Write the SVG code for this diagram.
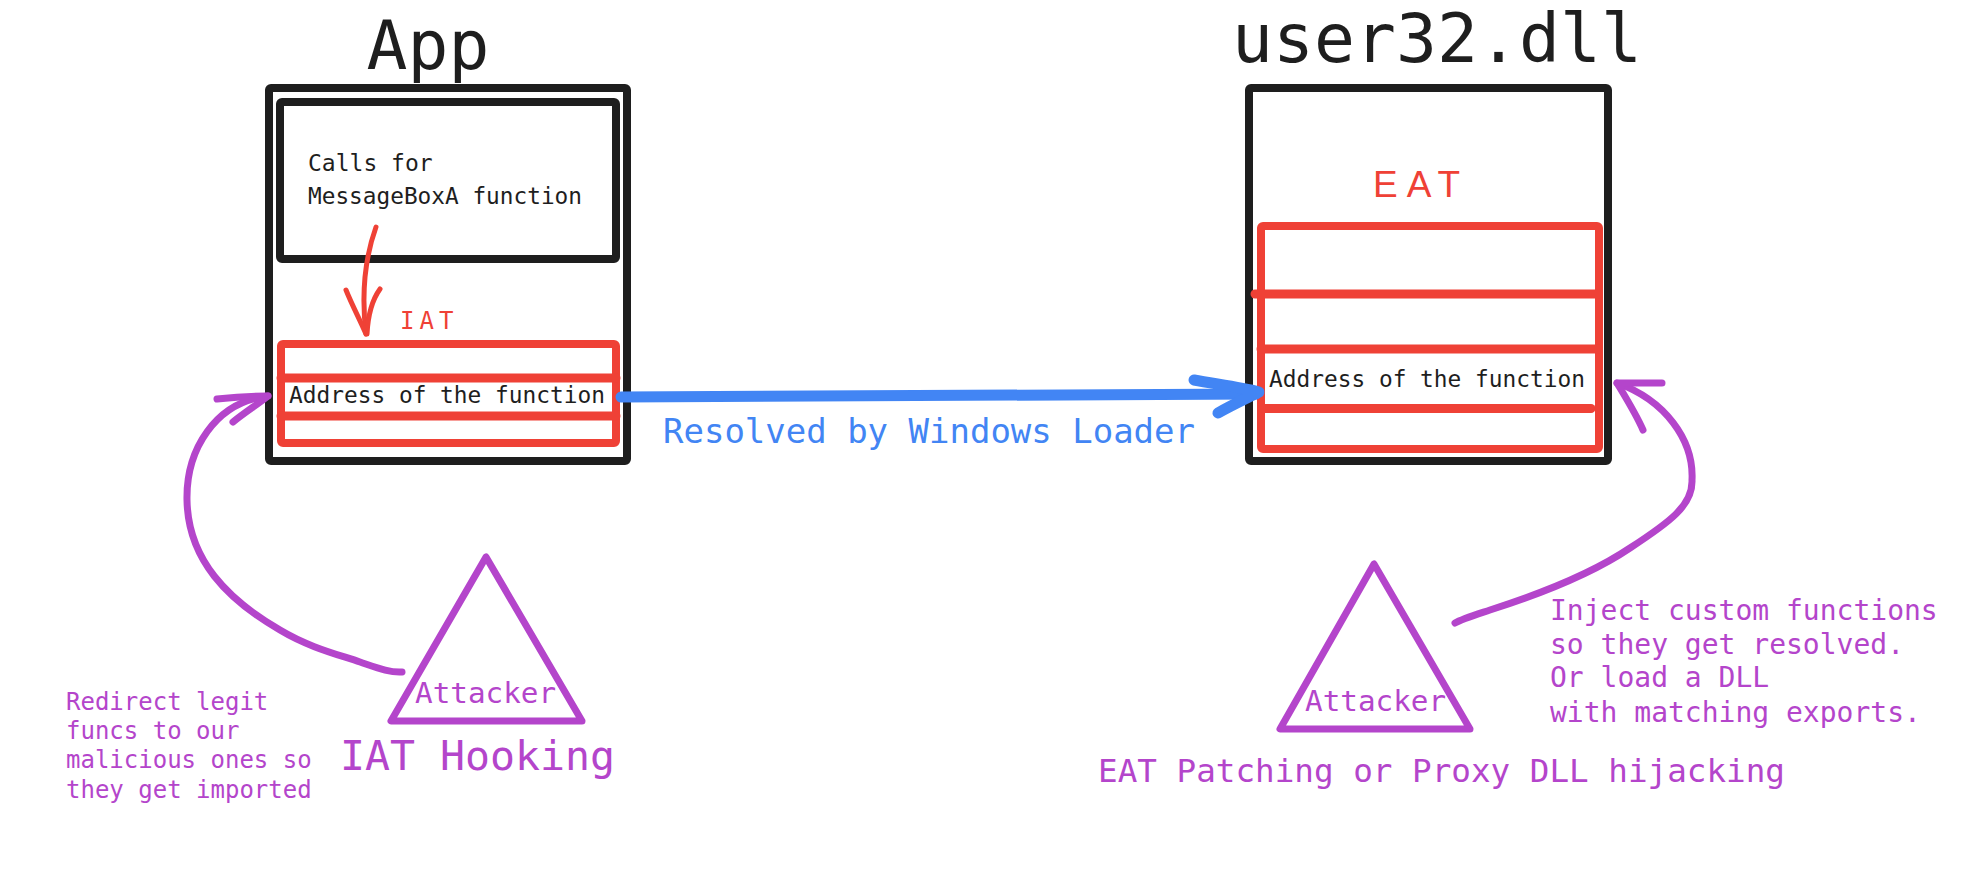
<svg xmlns="http://www.w3.org/2000/svg" width="1983" height="884" viewBox="0 0 1983 884">
<style>
.blk{fill:none;stroke:#1e1e1e;stroke-width:8;stroke-linejoin:round;stroke-linecap:round}
.red{fill:none;stroke:#ef4136;stroke-width:8;stroke-linejoin:round;stroke-linecap:round}
.redl{fill:none;stroke:#ef4136;stroke-width:9;stroke-linecap:round}
.pur{fill:none;stroke:#b445cb;stroke-width:7;stroke-linejoin:round;stroke-linecap:round}
.blu{fill:none;stroke:#4285f4;stroke-width:11;stroke-linejoin:round;stroke-linecap:round}
.redarrow{fill:none;stroke:#ef4136;stroke-width:5;stroke-linejoin:round;stroke-linecap:round}
.mono{font-family:"DejaVu Sans Mono","Liberation Mono",monospace}
.tk{fill:#1e1e1e}
.tp{fill:#b445cb}
.tr{fill:#ef4136}
.tb{fill:#4285f4}
</style>
<rect width="1983" height="884" fill="#ffffff"/>

<g id="app">
  <text class="mono tk" x="428" y="69" font-size="68" text-anchor="middle">App</text>
  <rect class="blk" x="269" y="88" width="358" height="373" rx="2"/>
  <g id="app-caller">
    <rect class="blk" x="280" y="102" width="336" height="157" rx="2"/>
    <text class="mono tk" x="308" y="171" font-size="23">Calls for</text>
    <text class="mono tk" x="308" y="204" font-size="23" textLength="274" lengthAdjust="spacingAndGlyphs">MessageBoxA function</text>
  </g>
  <g id="iat">
    <text class="mono tr" x="400" y="329" font-size="24" letter-spacing="5">IAT</text>
    <rect class="red" x="281" y="344" width="335" height="99" rx="2"/>
    <line class="redl" x1="281" y1="378" x2="616" y2="378"/>
    <line class="redl" x1="281" y1="416" x2="616" y2="416"/>
    <text class="mono tk" x="289" y="403" font-size="23" textLength="316" lengthAdjust="spacingAndGlyphs">Address of the function</text>
  </g>
</g>

<g id="user32">
  <text class="mono tk" x="1232" y="62" font-size="68" textLength="410" lengthAdjust="spacingAndGlyphs">user32.dll</text>
  <rect class="blk" x="1249" y="88" width="359" height="373" rx="2"/>
  <g id="eat">
    <text class="tr" x="1373" y="197" font-family="Liberation Sans, Arial, sans-serif" font-size="37" letter-spacing="9">EAT</text>
    <rect class="red" x="1261" y="226" width="338" height="223" rx="2"/>
    <line class="redl" x1="1255" y1="294" x2="1598" y2="294"/>
    <line class="redl" x1="1261" y1="349" x2="1598" y2="349"/>
    <line class="redl" x1="1263" y1="408.5" x2="1591" y2="408.5"/>
    <text class="mono tk" x="1269" y="387" font-size="23" textLength="316" lengthAdjust="spacingAndGlyphs">Address of the function</text>
  </g>
</g>

<g id="attacker-iat">
  <path class="pur" d="M486,557 L391,721 L582,721 Z"/>
  <text class="mono tp" x="415" y="703" font-size="28" textLength="141" lengthAdjust="spacingAndGlyphs">Attacker</text>
  <text class="mono tp" x="340" y="770" font-size="41" textLength="275" lengthAdjust="spacingAndGlyphs">IAT Hooking</text>
  <text class="mono tp" font-size="24">
    <tspan x="66" y="710">Redirect legit</tspan>
    <tspan x="66" y="739">funcs to our</tspan>
    <tspan x="66" y="768">malicious ones so</tspan>
    <tspan x="66" y="798">they get imported</tspan>
  </text>
</g>

<g id="attacker-eat">
  <path class="pur" d="M1374,564 L1280,729 L1470,729 Z"/>
  <text class="mono tp" x="1305" y="711" font-size="28" textLength="141" lengthAdjust="spacingAndGlyphs">Attacker</text>
  <text class="mono tp" x="1098" y="782" font-size="32.5" textLength="687" lengthAdjust="spacingAndGlyphs">EAT Patching or Proxy DLL hijacking</text>
  <text class="mono tp" font-size="28">
    <tspan x="1550" y="620">Inject custom functions</tspan>
    <tspan x="1550" y="654">so they get resolved.</tspan>
    <tspan x="1550" y="687">Or load a DLL</tspan>
    <tspan x="1550" y="722">with matching exports.</tspan>
  </text>
</g>

<g id="connectors">
  <g id="call-to-iat">
    <path class="redarrow" d="M376,227 C366,255 361,292 366,334"/>
    <path class="redarrow" d="M346,290 C352,305 360,320 366,334 M380,289 C372,300 368,315 367,334"/>
  </g>
  <g id="iat-to-eat">
    <path class="blu" d="M621,397 L1256,394"/>
    <path class="blu" d="M1194,380 C1215,384 1240,387 1259,392 C1245,399 1230,406 1218,413"/>
    <text class="mono tb" x="663" y="443" font-size="34" textLength="532" lengthAdjust="spacingAndGlyphs">Resolved by Windows Loader</text>
  </g>
  <g id="hook-iat">
    <path class="pur" d="M402,672 C390,673 375,667 360,662 C340,655 310,648 280,630 C228,600 188,560 187,500 C186,450 215,402 268,396"/>
    <path class="pur" d="M217,399 C235,397 252,396 268,396 C258,404 244,413 233,422"/>
  </g>
  <g id="patch-eat">
    <path class="pur" d="M1455,623 C1462,619 1475,615 1490,610 C1540,594 1590,575 1630,548 C1670,522 1693,505 1692,480 C1694,440 1665,400 1617,383"/>
    <path class="pur" d="M1662,383 C1645,383 1630,383 1617,383 C1626,398 1636,414 1643,430"/>
  </g>
</g>
</svg>
